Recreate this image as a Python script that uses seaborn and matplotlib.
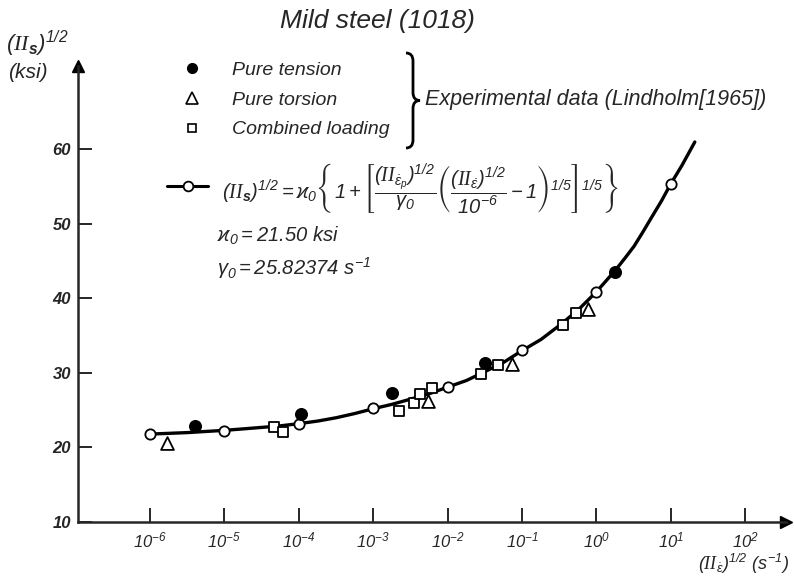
import matplotlib
matplotlib.use("Agg")
import matplotlib.pyplot as plt
from matplotlib.path import Path
from matplotlib.patches import PathPatch
from matplotlib.lines import Line2D
import seaborn as sns

# model curve
curve_rate = [1e-6, 1.8e-6, 3.2e-6, 5.6e-6, 1e-5, 1.8e-5, 3.2e-5, 5.6e-5, 1e-4, 1.8e-4,
              3.2e-4, 5.6e-4, 1e-3, 1.8e-3, 3.2e-3, 5.6e-3, 1e-2, 1.8e-2, 3.2e-2, 5.6e-2,
              0.1, 0.18, 0.32, 0.56, 1.0, 1.33, 1.8, 2.37, 3.2, 4.2, 5.6, 7.5, 10.0, 14.0, 21.0]
curve_stress = [21.8, 21.9, 22.0, 22.15, 22.3, 22.5, 22.7, 22.9, 23.2, 23.55,
                24.0, 24.55, 25.2, 25.8, 26.5, 27.2, 28.1, 29.0, 30.2, 31.4,
                33.0, 34.5, 36.4, 38.4, 40.9, 42.3, 43.8, 45.3, 47.0, 48.9, 51.0, 53.1, 55.4, 57.8, 61.0]

# open circles on the model curve
model_rate = [1e-6, 1e-5, 1e-4, 1e-3, 1e-2, 1e-1, 1.0, 10.0]
model_stress = [21.8, 22.25, 23.15, 25.26, 28.1, 33.1, 40.9, 55.4]

# experimental data (Lindholm 1965)
tension_rate = [4.0e-6, 1.07e-4, 1.8e-3, 3.2e-2, 1.8]
tension_stress = [22.9, 24.5, 27.3, 31.4, 43.6]

torsion_rate = [1.7e-6, 5.5e-3, 7.4e-2, 0.76]
torsion_stress = [20.6, 26.2, 31.2, 38.6]

combined_rate = [4.6e-5, 6.2e-5, 2.2e-3, 3.5e-3, 4.3e-3, 6.2e-3, 2.8e-2, 4.7e-2, 0.36, 0.53]
combined_stress = [22.7, 22.1, 24.9, 26.0, 27.2, 27.95, 29.8, 31.1, 36.4, 38.0]

kappa0 = "21.50"
gamma0 = "25.82374"

xtick_vals = [1e-6, 1e-5, 1e-4, 1e-3, 1e-2, 1e-1, 1e0, 1e1, 1e2]
xtick_labels = [r"$10^{-6}$", r"$10^{-5}$", r"$10^{-4}$", r"$10^{-3}$", r"$10^{-2}$",
                r"$10^{-1}$", r"$10^{0}$", r"$10^{1}$", r"$10^{2}$"]
ytick_vals = [10, 20, 30, 40, 50, 60]

legend_labels = ["Pure tension", "Pure torsion", "Combined loading"]

sns.set_style("ticks")
plt.rcParams["font.family"] = ["Liberation Sans", "DejaVu Sans"]
plt.rcParams["font.style"] = "italic"
plt.rcParams["mathtext.fontset"] = "custom"
plt.rcParams["mathtext.rm"] = "Liberation Sans:italic"
plt.rcParams["mathtext.it"] = "Liberation Sans:italic"
plt.rcParams["mathtext.bf"] = "Liberation Sans:bold:italic"
plt.rcParams["mathtext.sf"] = "Liberation Serif"
plt.rcParams["mathtext.fallback"] = "stix"

W, H = 794, 579
fig = plt.figure(figsize=(W / 100, H / 100), dpi=100)
ax = fig.add_axes([78 / W, 57 / H, 708 / W, 456 / H])
ax.set_xscale("log")

sns.lineplot(x=curve_rate, y=curve_stress, ax=ax, color="black", linewidth=2.4, zorder=2)
sns.scatterplot(x=model_rate, y=model_stress, ax=ax, marker="o", s=55,
                color="white", edgecolor="black", linewidth=1.3, zorder=3)
sns.scatterplot(x=tension_rate, y=tension_stress, ax=ax, marker="o", s=70,
                color="black", edgecolor="black", linewidth=1.0, zorder=3)
sns.scatterplot(x=torsion_rate, y=torsion_stress, ax=ax, marker="^", s=85,
                color="white", edgecolor="black", linewidth=1.3, zorder=3)
sns.scatterplot(x=combined_rate, y=combined_stress, ax=ax, marker="s", s=55,
                color="white", edgecolor="black", linewidth=1.3, zorder=3)

ax.set_xlim(10 ** -6.968, 10 ** 2.548)
ax.set_ylim(10, 71.2)
ax.set_xticks(xtick_vals)
ax.set_xticklabels(xtick_labels)
ax.set_yticks(ytick_vals)
ax.set_yticklabels([str(v) for v in ytick_vals], fontweight="bold")
ax.minorticks_off()
ax.tick_params(axis="both", direction="in", length=10, width=1.4, labelsize=12)
ax.tick_params(axis="x", pad=6)
ax.tick_params(axis="y", pad=5)
sns.despine(ax=ax)
for side in ["left", "bottom"]:
    ax.spines[side].set_linewidth(1.8)
ax.set_xlabel("")
ax.set_ylabel("")

# axis arrowheads
ax.plot(1, 0, ">", color="black", ms=9, transform=ax.transAxes, clip_on=False)
ax.plot(0, 1, "^", color="black", ms=9, transform=ax.transAxes, clip_on=False)

# legend
handles = [
    Line2D([], [], ls="none", marker="o", ms=7, mfc="black", mec="black"),
    Line2D([], [], ls="none", marker="^", ms=8, mfc="white", mec="black", mew=1.2),
    Line2D([], [], ls="none", marker="s", ms=6, mfc="white", mec="black", mew=1.2),
]

# overlay in pixel coordinates for annotations
ov = fig.add_axes([0, 0, 1, 1])
ov.set_xlim(0, W)
ov.set_ylim(H, 0)
ov.set_axis_off()

leg = ov.legend(handles, legend_labels, loc="center left", bbox_to_anchor=(180, 100),
                bbox_transform=ov.transData, frameon=False, fontsize=14,
                handlelength=1.2, handletextpad=1.45, labelspacing=0.62,
                borderpad=0, borderaxespad=0)

ov.text(377, 21, "Mild steel (1018)", fontsize=19, ha="center", va="center")


def brace(x, y0, y1, w):
    ym = (y0 + y1) / 2
    r = 8
    verts = [(x, y0), (x + w / 2, y0), (x + w / 2, y0 + r),
             (x + w / 2, ym - r),
             (x + w / 2, ym), (x + w, ym),
             (x + w / 2, ym), (x + w / 2, ym + r),
             (x + w / 2, y1 - r),
             (x + w / 2, y1), (x, y1)]
    codes = [Path.MOVETO, Path.CURVE3, Path.CURVE3, Path.LINETO,
             Path.CURVE3, Path.CURVE3, Path.CURVE3, Path.CURVE3,
             Path.LINETO, Path.CURVE3, Path.CURVE3]
    ov.add_patch(PathPatch(Path(verts, codes), fill=False, lw=2.0, color="black"))


brace(406, 53, 148, 14)
ov.text(425, 99, "Experimental data (Lindholm[1965])", fontsize=15.5, va="center", ha="left")

# model legend entry and formula
ov.plot([167, 208], [186, 186], color="black", lw=2.2)
ov.plot([188], [186], marker="o", ms=7, mfc="white", mec="black", mew=1.3)
formula = (r"$(\mathsf{II}_{\mathbf{s}})^{1/2} = ϰ_0\left\{1+\left["
           r"\dfrac{(\mathsf{II}_{\dot{\varepsilon}_p})^{1/2}}{\gamma_0}"
           r"\left(\dfrac{(\mathsf{II}_{\dot{\varepsilon}})^{1/2}}{10^{-6}}-1\right)^{1/5}"
           r"\right]^{1/5}\right\}$")
ov.text(222, 189, formula, fontsize=14.5, va="center", ha="left")
ov.text(217, 236, r"$ϰ_0 = 21.50\ ksi$".replace("21.50", kappa0), fontsize=14.5, va="center")
ov.text(217, 268, r"$\gamma_0 = 25.82374\ s^{-1}$".replace("25.82374", gamma0),
        fontsize=14.5, va="center")

# axis labels
ov.text(6, 44, r"$(\mathsf{II}_{\mathbf{s}})^{1/2}$", fontsize=16, va="center", ha="left")
ov.text(8, 72, "(ksi)", fontsize=15, va="center", ha="left")
ov.text(789, 564, r"$(\mathsf{II}_{\dot{\varepsilon}})^{1/2}\ (s^{-1})$", fontsize=13,
        va="center", ha="right")

fig.savefig("out.png", dpi=100)
